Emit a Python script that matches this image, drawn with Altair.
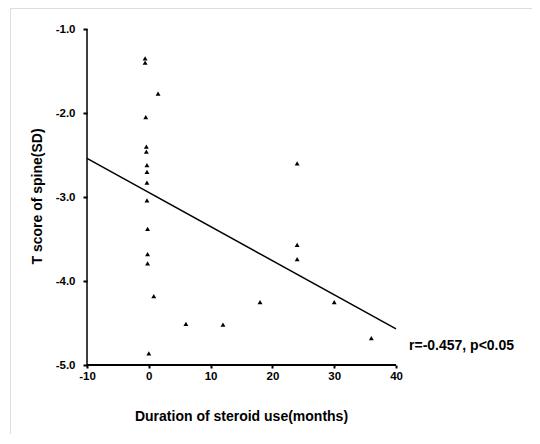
import altair as alt
import pandas as pd

# Data
dur = [-0.6, -0.6, 1.5, -0.5, -0.4, -0.4, -0.3, -0.3, -0.3, -0.3, -0.2, -0.2, -0.2,
       0.8, 6, 12, 18, 0, 24, 24, 24, 30, 36]
tscore = [-1.35, -1.40, -1.77, -2.05, -2.40, -2.46, -2.62, -2.70, -2.83, -3.04, -3.38,
          -3.68, -3.79, -4.18, -4.51, -4.52, -4.25, -4.86, -2.60, -3.57, -3.74, -4.25, -4.68]
fit_x = [-10, 40]
fit_y = [-2.54, -4.57]
x_ticks = [-10, 0, 10, 20, 30, 40]
y_ticks = [-1, -2, -3, -4, -5]
note = "r=-0.457, p<0.05"

pts = pd.DataFrame({"x": dur, "y": tscore})
fit = pd.DataFrame({"x": fit_x, "y": fit_y})
xaxis_df = pd.DataFrame({"x": [min(x_ticks)], "x2": [max(x_ticks)], "y": [min(y_ticks)]})
yaxis_df = pd.DataFrame({"x": [min(x_ticks)], "y": [min(y_ticks)], "y2": [max(y_ticks)]})
note_df = pd.DataFrame({"x": [42.1], "y": [-4.77], "t": [note]})

FONT = "Liberation Sans"
xs = alt.Scale(domain=[-22.46, 62.0], nice=False, zero=False)
ys = alt.Scale(domain=[-5.821, -0.75], nice=False, zero=False)

xaxis = alt.Axis(values=x_ticks, domain=False, grid=False, offset=-69, tickSize=3,
                 tickColor="black", tickWidth=2, labelPadding=2,
                 labelFont=FONT, labelFontSize=11.5, labelFontWeight="bold", labelColor="black",
                 labelExpr="'' + datum.value",
                 title="Duration of steroid use(months)", titleFont=FONT, titleFontSize=14,
                 titleFontWeight="bold", titleColor="black",
                 titleX=231, titleY=51, titleBaseline="middle", titleAlign="center")
yaxis = alt.Axis(values=y_ticks, domain=False, grid=False, offset=-77, tickSize=4,
                 tickColor="black", tickWidth=2, labelPadding=8,
                 labelFont=FONT, labelFontSize=11.5, labelFontWeight="bold", labelColor="black",
                 labelExpr="'' + datum.value + '.0'",
                 title="T score of spine(SD)", titleFont=FONT, titleFontSize=14,
                 titleFontWeight="bold", titleColor="black",
                 titleX=-50, titleY=188, titleBaseline="middle", titleAlign="center",
                 titleAngle=270)

points = alt.Chart(pts).mark_point(shape="triangle-up", filled=True, color="black",
                                   size=24, opacity=1).encode(
    x=alt.X("x:Q", scale=xs, axis=xaxis),
    y=alt.Y("y:Q", scale=ys, axis=yaxis),
)
line = alt.Chart(fit).mark_line(color="black", strokeWidth=1.5).encode(
    x=alt.X("x:Q", scale=xs), y=alt.Y("y:Q", scale=ys))
xline = alt.Chart(xaxis_df).mark_rule(color="black", strokeWidth=2).encode(
    x=alt.X("x:Q", scale=xs), x2="x2:Q", y=alt.Y("y:Q", scale=ys))
yline = alt.Chart(yaxis_df).mark_rule(color="black", strokeWidth=1.5).encode(
    x=alt.X("x:Q", scale=xs), y=alt.Y("y:Q", scale=ys), y2="y2:Q")
text = alt.Chart(note_df).mark_text(align="left", baseline="middle", font=FONT,
                                    fontSize=14, fontWeight="bold", color="black").encode(
    x=alt.X("x:Q", scale=xs), y=alt.Y("y:Q", scale=ys), text="t:N")

chart = alt.layer(xline, yline, line, points, text).properties(
    width=522, height=426,
    padding={"left": 2, "top": 0, "right": 0, "bottom": 0},
).configure_view(stroke="#333333", strokeWidth=1.5, strokeDash=[2, 1]
).configure(background="white")

chart.save("out.html", embed_options={"renderer": "svg", "actions": False})
